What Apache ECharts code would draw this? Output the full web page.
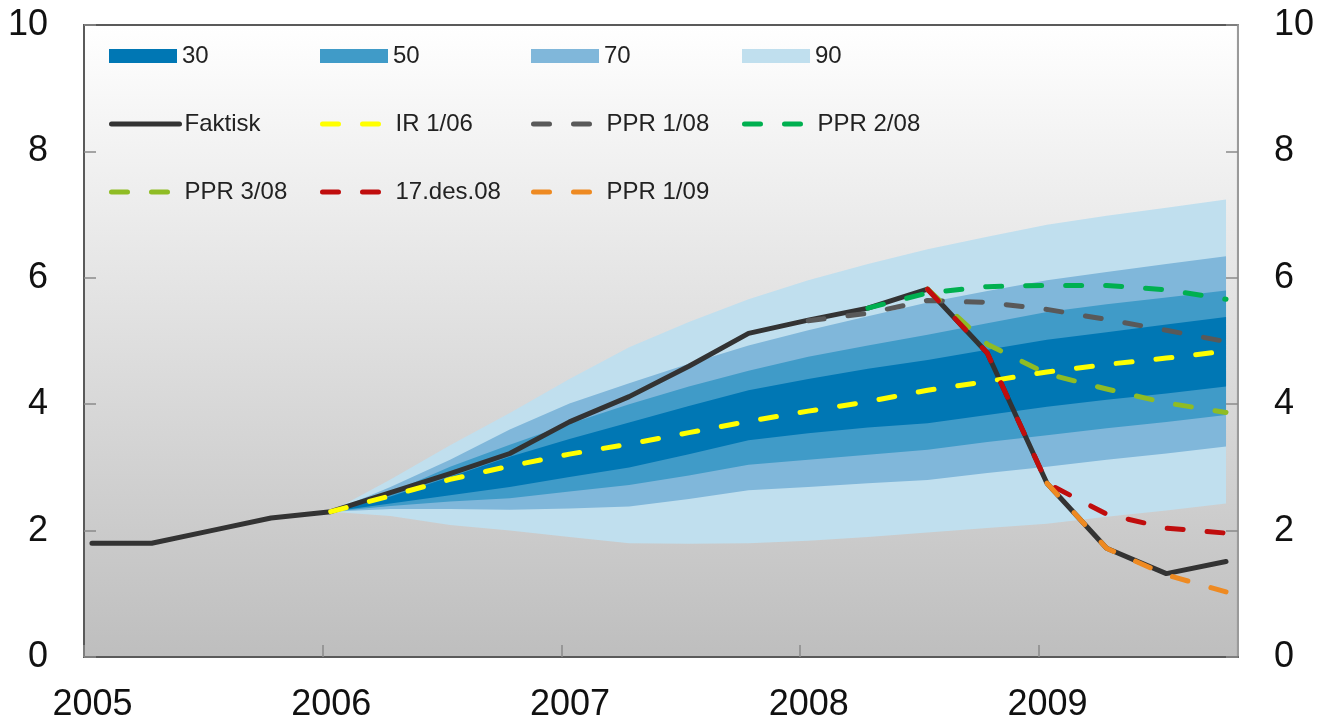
<!DOCTYPE html>
<html>
<head>
<meta charset="utf-8">
<script src="https://cdn.jsdelivr.net/npm/echarts@6/dist/echarts.min.js"></script>
<style>
html,body{margin:0;padding:0;background:#fff;}
#c{width:1317px;height:724px;}
</style>
</head>
<body>
<div id="c"></div>
<script>
// Quarterly observation dates
const quarters = ['2005-01','2005-04','2005-07','2005-10','2006-01','2006-04','2006-07','2006-10',
  '2007-01','2007-04','2007-07','2007-10','2008-01','2008-04','2008-07','2008-10',
  '2009-01','2009-04','2009-07','2009-10'];
const yearTicks = [2005, 2006, 2007, 2008, 2009];

// Lines
const faktisk = [1.8,1.8,2.0,2.2,2.3,2.6,2.9,3.22,3.72,4.12,4.6,5.12,5.33,5.52,5.82,4.81,2.75,1.72,1.32,1.51];
const ir106   = [null,null,null,null,2.3,2.55,2.81,3.02,3.21,3.37,3.55,3.73,3.89,4.04,4.22,4.36,4.51,4.63,4.73,4.84];
const ppr108  = [null,null,null,null,null,null,null,null,null,null,null,null,5.32,5.44,5.64,5.61,5.50,5.34,5.17,4.99];
const ppr208  = [null,null,null,null,null,null,null,null,null,null,null,null,null,5.52,5.76,5.86,5.88,5.88,5.81,5.66];
const ppr308  = [null,null,null,null,null,null,null,null,null,null,null,null,null,null,5.82,4.95,4.48,4.24,4.02,3.87];
const des08   = [null,null,null,null,null,null,null,null,null,null,null,null,null,null,5.82,4.81,2.75,2.26,2.04,1.96];
const ppr109  = [null,null,null,null,null,null,null,null,null,null,null,null,null,null,null,null,2.75,1.72,1.30,1.03];

// Fan chart bounds (IR 1/06)
const p90lo = [null,null,null,null,2.3,2.23,2.09,2.00,1.90,1.80,1.79,1.80,1.84,1.90,1.97,2.04,2.11,2.22,2.32,2.43];
const p70lo = [null,null,null,null,2.3,2.34,2.34,2.33,2.35,2.38,2.50,2.64,2.69,2.75,2.80,2.91,3.01,3.12,3.22,3.33];
const p50lo = [null,null,null,null,2.3,2.39,2.46,2.51,2.62,2.72,2.87,3.04,3.12,3.20,3.28,3.40,3.51,3.62,3.72,3.83];
const p30lo = [null,null,null,null,2.3,2.43,2.56,2.69,2.85,3.00,3.21,3.43,3.54,3.63,3.70,3.83,3.96,4.07,4.17,4.28];
const p30hi = [null,null,null,null,2.3,2.54,2.85,3.17,3.45,3.71,3.97,4.22,4.40,4.56,4.70,4.86,5.02,5.14,5.26,5.38];
const p50hi = [null,null,null,null,2.3,2.60,3.01,3.36,3.69,4.00,4.28,4.53,4.75,4.93,5.10,5.28,5.46,5.58,5.69,5.80];
const p70hi = [null,null,null,null,2.3,2.69,3.12,3.60,4.01,4.33,4.64,4.93,5.17,5.39,5.61,5.79,5.96,6.09,6.22,6.34];
const p90hi = [null,null,null,null,2.3,2.81,3.35,3.86,4.40,4.90,5.30,5.66,5.96,6.22,6.45,6.65,6.84,6.98,7.11,7.24];

const bandNames = ['30','50','70','90'];
const bandColors = {'30':'#0077b4','50':'#409bc8','70':'#80b7da','90':'#c0dfee'};
const bandBounds = {'90':[p90lo,p90hi], '70':[p70lo,p70hi], '50':[p50lo,p50hi], '30':[p30lo,p30hi]};

const lineDefs = [
  {name:'Faktisk', data:faktisk, color:'#333333', dashed:false},
  {name:'IR 1/06', data:ir106, color:'#ffff00', dashed:true},
  {name:'PPR 1/08', data:ppr108, color:'#595959', dashed:true},
  {name:'PPR 2/08', data:ppr208, color:'#00b050', dashed:true},
  {name:'PPR 3/08', data:ppr308, color:'#8fbc24', dashed:true},
  {name:'17.des.08', data:des08, color:'#c00d0d', dashed:true},
  {name:'PPR 1/09', data:ppr109, color:'#ee8a22', dashed:true}
];
const DASH = [16, 24];

function toX(s){ const p = s.split('-').map(Number); return p[0] + (p[1] - 0.6) / 12; }
function pairs(arr){ const out=[]; arr.forEach((v,i)=>{ if(v!=null) out.push([toX(quarters[i]), v]); }); return out; }
function bandData(lo, hi){ const out=[]; lo.forEach((v,i)=>{ if(v!=null && hi[i]!=null) out.push([toX(quarters[i]), v, hi[i]]); }); return out; }

const FONT = 'Liberation Sans, Arial, sans-serif';
const series = [];
// Fan bands: widest first, narrower drawn on top
['90','70','50','30'].forEach(b=>{
  const data = bandData(bandBounds[b][0], bandBounds[b][1]);
  series.push({
    name:b, type:'custom', silent:true, z:1,
    itemStyle:{color:bandColors[b]},
    encode:{x:0, y:[1,2]},
    data:data,
    renderItem:function(params, api){
      if (params.dataIndex !== 0) return null;
      const top = data.map(d => api.coord([d[0], d[2]]));
      const bot = data.slice().reverse().map(d => api.coord([d[0], d[1]]));
      return {type:'polygon', shape:{points: top.concat(bot)}, style:{fill:bandColors[b], stroke:null}};
    }
  });
});
lineDefs.forEach(d=>{
  series.push({name:d.name, type:'line', data:pairs(d.data), symbol:'none', silent:true, z:3,
    itemStyle:{color:d.color},
    lineStyle:{color:d.color, width:5, type: d.dashed ? DASH : 'solid', cap:'round', join:'round'}});
});

const legends = [];
const cols = [109, 320, 531, 742];
const rowTops = [44, 112, 180];
bandNames.forEach((n,i)=>{
  legends.push({data:[{name:n, icon:'rect'}], left:cols[i], top:rowTops[0], padding:0, itemWidth:68, itemHeight:14,
    selectedMode:false, itemStyle:{color:bandColors[n]}, textStyle:{fontSize:24, color:'#222', fontFamily:FONT}});
});
lineDefs.forEach((d,i)=>{
  const r = 1 + Math.floor(i/4), c = i % 4;
  legends.push({data:[d.name], left:cols[c], top:rowTops[r], padding:0, itemWidth:68, itemHeight:14,
    selectedMode:false, itemStyle:{opacity:0},
    lineStyle:{width:5, color:d.color, type: d.dashed ? DASH : 'solid', cap:'round'},
    textStyle:{fontSize:24, color:'#222', fontFamily:FONT}});
});

const yCommon = {
  type:'value', min:0, max:10, interval:2,
  splitLine:{show:false},
  axisTick:{show:true, inside:true, length:12, lineStyle:{color:'#8a8a8a', width:1.5}},
  axisLabel:{fontSize:36, color:'#111', margin:36, fontFamily:FONT}
};

const chart = echarts.init(document.getElementById('c'), null, {renderer:'canvas'});
chart.setOption({
  animation:false,
  textStyle:{fontFamily:FONT},
  grid:{left:84, right:78, top:25, bottom:67, show:true, borderColor:'#5a5a5a', borderWidth:2,
    backgroundColor:{type:'linear', x:0, y:0, x2:0, y2:1, colorStops:[{offset:0,color:'#ffffff'},{offset:1,color:'#bebebe'}]}},
  legend: legends,
  xAxis:{type:'value', min:2005, max:2005 + 58/12, interval:1,
    splitLine:{show:false},
    axisLine:{show:true, lineStyle:{color:'#5a5a5a', width:2}},
    axisTick:{show:true, inside:true, length:12, lineStyle:{color:'#8a8a8a', width:1.5}},
    axisLabel:{fontSize:36, color:'#111', margin:30, padding:[0,0,0,17], fontFamily:FONT, showMaxLabel:false,
      formatter: v => yearTicks.indexOf(Math.round(v*1000)/1000) >= 0 ? String(v) : ''}},
  yAxis:[
    Object.assign({}, yCommon, {position:'left', axisLine:{show:true, lineStyle:{color:'#5a5a5a', width:2}}}),
    Object.assign({}, yCommon, {position:'right', axisLine:{show:true, lineStyle:{color:'#9a9a9a', width:2}}})
  ],
  series: series
});
</script>
</body>
</html>
